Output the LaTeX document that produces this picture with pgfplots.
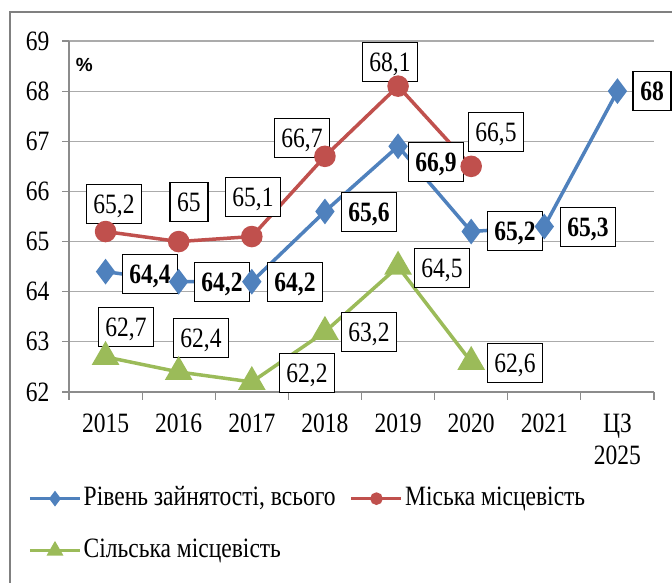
\documentclass[border=0pt]{standalone}
\usepackage{fontspec}
\setmainfont[FakeStretch=0.84]{Liberation Serif}
\newfontfamily\tnr[FakeStretch=0.84]{Liberation Serif}
\newfontfamily\arialfont{Liberation Sans}
\usepackage{pgfplots}
\pgfplotsset{compat=1.18}
\definecolor{cblue}{HTML}{4F81BD}
\definecolor{cred}{HTML}{C0504D}
\definecolor{cgreen}{HTML}{9BBB59}
\definecolor{gridgray}{HTML}{ABABAB}
\definecolor{axisgray}{HTML}{8C8C8C}
\definecolor{framegray}{HTML}{808080}
\newcommand\fs{\tnr\fontsize{28}{32}\selectfont}
\tikzset{
  lbl/.style={draw=black, line width=1.6pt, fill=white, inner xsep=7pt, inner ysep=0pt,
    minimum height=39pt, text height=19pt, text depth=0pt, font=\fs, anchor=center},
  lblb/.style={lbl, font=\fs\bfseries}
}
\begin{document}
\begin{tikzpicture}
\useasboundingbox (0pt,0pt) rectangle (672pt,583pt);
\draw[framegray, line width=2pt] (9.5pt,-5pt) -- (9.5pt,571pt) -- (690pt,571pt);
\begin{axis}[
  at={(69pt,191pt)}, anchor=south west,
  scale only axis, width=585pt, height=351pt,
  xmin=-0.5, xmax=7.5, ymin=62, ymax=69,
  clip=false,
  axis x line*=bottom, axis y line*=left,
  axis line style={draw=axisgray, line width=1.2pt},
  xtick={0,...,7},
  xticklabels={2015,2016,2017,2018,2019,2020,2021,{ЦЗ\\2025}},
  minor xtick={-0.5,0.5,...,7.5},
  ytick={62,...,69},
  tick align=outside,
  major tick length=7pt, minor tick length=8pt,
  tick style={draw=axisgray, line width=1.2pt},
  major x tick style={draw=none},
  ymajorgrids,
  major grid style={draw=gridgray, line width=1.2pt},
  tick label style={font=\fs},
  x tick label style={align=center, yshift=-11pt},
  y tick label style={xshift=-9pt},
  /pgf/number format/assume math mode=true,
  legend columns=2,
  legend cell align=left,
  legend image code/.code={
    \draw[mark repeat=2, mark phase=2, #1, mark options={solid, scale=0.5}]
      plot coordinates {(0pt,0pt) (25pt,0pt) (50pt,0pt)};
  },
  legend style={at={(rel axis cs:-0.07,-0.262)}, anchor=north west,
    draw=none, fill=none, inner sep=0pt, row sep=23pt,
    nodes={inner sep=2pt, text height=19pt, text depth=6pt, font=\fs},
    /tikz/every even column/.append style={column sep=12pt}},
]
\addplot[cblue, line width=3.5pt, mark=diamond*, mark size=10pt, mark options={solid}]
  coordinates {(0,64.4)(1,64.2)(2,64.2)(3,65.6)(4,66.9)(5,65.2)(6,65.3)(7,68)};
\addlegendentry{Рівень зайнятості, всього}
\addplot[cred, line width=3.5pt, mark=*, mark size=9pt, mark options={solid}]
  coordinates {(0,65.2)(1,65)(2,65.1)(3,66.7)(4,68.1)(5,66.5)};
\addlegendentry{Міська місцевість}
\addplot[cgreen, line width=3.5pt, mark=triangle*, mark size=12.5pt, mark options={solid}]
  coordinates {(0,62.7)(1,62.4)(2,62.2)(3,63.2)(4,64.5)(5,62.6)};
\addlegendentry{Сільська місцевість}

\node[font=\arialfont\bfseries\fontsize{19}{22}\selectfont] at (axis cs:-0.29,68.52) {\%};

% blue labels
\node[lblb, xshift=44.4pt, yshift=-2.4pt] at (axis cs:0,64.4) {64,4};
\node[lblb, xshift=43.3pt, yshift=-0.3pt] at (axis cs:1,64.2) {64,2};
\node[lblb, xshift=43.2pt, yshift=-0.3pt] at (axis cs:2,64.2) {64,2};
\node[lblb, xshift=44.1pt, yshift=-0.5pt] at (axis cs:3,65.6) {65,6};
\node[lblb, xshift=37.9pt, yshift=-15.7pt] at (axis cs:4,66.9) {66,9};
\node[lblb, xshift=43.8pt, yshift=0.5pt] at (axis cs:5,65.2) {65,2};
\node[lblb, xshift=43.7pt, yshift=-0.5pt] at (axis cs:6,65.3) {65,3};
\node[lblb, xshift=34.6pt, yshift=0pt] at (axis cs:7,68) {68};
% red labels
\node[lbl, xshift=8.4pt, yshift=27.5pt] at (axis cs:0,65.2) {65,2};
\node[lbl, xshift=10.3pt, yshift=39.6pt] at (axis cs:1,65) {65};
\node[lbl, xshift=1.2pt, yshift=39.5pt] at (axis cs:2,65.1) {65,1};
\node[lbl, xshift=-22.9pt, yshift=18.3pt] at (axis cs:3,66.7) {66,7};
\node[lbl, xshift=-8.1pt, yshift=24.1pt] at (axis cs:4,68.1) {68,1};
\node[lbl, xshift=24.8pt, yshift=34.3pt] at (axis cs:5,66.5) {66,5};
% green labels
\node[lbl, xshift=20.4pt, yshift=29.9pt] at (axis cs:0,62.7) {62,7};
\node[lbl, xshift=22.3pt, yshift=34pt] at (axis cs:1,62.4) {62,4};
\node[lbl, xshift=55.2pt, yshift=9pt] at (axis cs:2,62.2) {62,2};
\node[lbl, xshift=44.1pt, yshift=0pt] at (axis cs:3,63.2) {63,2};
\node[lbl, xshift=43.9pt, yshift=-1.4pt] at (axis cs:4,64.5) {64,5};
\node[lbl, xshift=43.8pt, yshift=-1pt] at (axis cs:5,62.6) {62,6};
\end{axis}
\end{tikzpicture}
\end{document}
